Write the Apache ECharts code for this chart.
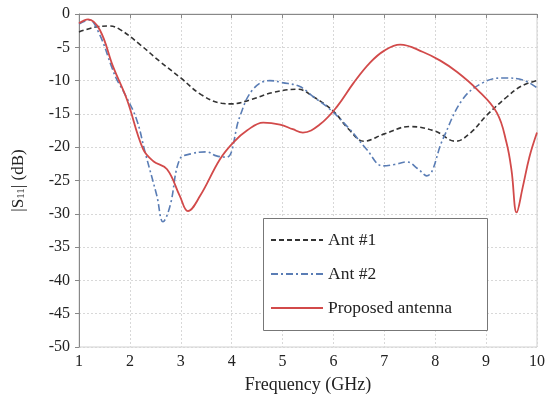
<!DOCTYPE html>
<html><head><meta charset="utf-8">
<script src="https://cdn.jsdelivr.net/npm/echarts@6/dist/echarts.min.js"></script>
<style>html,body{margin:0;padding:0;background:#fff}#c{width:553px;height:399px}</style>
</head><body><div id="c"></div>
<script>
const xTicks = [1,2,3,4,5,6,7,8,9,10];
const yTicks = [0,-5,-10,-15,-20,-25,-30,-35,-40,-45,-50];
const ant1X = [1,1.3,1.6,1.8,2.2,2.6,3.0,3.4,3.8,4.0,4.4,4.8,5.3,5.6,6.0,6.3,6.6,7.0,7.5,8.0,8.4,8.7,9.0,9.4,9.7,10];
const ant1Y = [-2.7,-2.0,-1.8,-2.3,-4.6,-7.2,-9.6,-12.1,-13.4,-13.5,-12.8,-11.8,-11.3,-12.4,-14.6,-17.3,-19.1,-18.0,-16.9,-17.6,-19.1,-17.8,-15.3,-12.5,-10.8,-10.0];
const ant2X = [1,1.2,1.4,1.64,1.74,1.9,2.13,2.3,2.53,2.65,2.79,2.98,3.2,3.5,3.7,3.9,4.16,4.42,4.75,5.0,5.34,5.6,5.93,6.32,6.65,6.97,7.2,7.44,7.65,7.83,8.15,8.54,8.94,9.33,9.72,10];
const ant2Y = [-1.5,-0.9,-3.0,-7.9,-9.8,-12.0,-15.8,-20.8,-27.3,-31.2,-28.8,-21.8,-21.0,-20.7,-21.3,-21.5,-15.4,-11.3,-10.0,-10.3,-10.9,-12.4,-14.3,-17.3,-20.3,-22.8,-22.6,-22.2,-23.2,-24.3,-18.8,-12.8,-10.3,-9.6,-9.9,-11.1];
const propX = [1,1.18,1.41,1.67,1.94,2.26,2.46,2.73,2.98,3.14,3.38,3.77,4.03,4.3,4.62,4.95,5.2,5.4,5.73,6.07,6.4,6.72,7.0,7.31,7.76,8.1,8.43,8.82,9.21,9.4,9.5,9.6,9.72,9.85,10];
const propY = [-1.4,-0.8,-2.4,-7.9,-12.8,-20.3,-22.1,-23.3,-27.3,-29.6,-27.3,-21.8,-19.3,-17.5,-16.3,-16.6,-17.3,-17.8,-16.6,-13.9,-10.3,-7.3,-5.5,-4.6,-5.7,-7.0,-8.7,-11.3,-14.8,-19.3,-23.5,-29.8,-26.0,-21.5,-17.8];
const names = ['Ant #1','Ant #2','Proposed antenna'];
const zip = (a,b)=>a.map((v,i)=>[v,b[i]]);
const font = '"Liberation Serif", "Times New Roman", serif';
const chart = echarts.init(document.getElementById('c'));
chart.setOption({
  animation:false,
  textStyle:{fontFamily:font},
  grid:{left:79,right:16,top:14,bottom:50,show:true,borderColor:'#d0d0d0',borderWidth:1},
  xAxis:{type:'value',min:1,max:10,interval:1,
    name:'Frequency (GHz)',nameLocation:'middle',nameGap:29,
    nameTextStyle:{fontFamily:font,fontSize:18,color:'#222'},
    axisLine:{lineStyle:{color:'#888',width:1}},
    axisTick:{show:true,length:4,lineStyle:{color:'#888'}},
    axisLabel:{fontFamily:font,fontSize:16,color:'#222',margin:7},
    splitLine:{show:true,lineStyle:{color:'#d8d8d8',type:[2,2]}}},
  yAxis:{type:'value',min:-50,max:0,interval:5,
    name:'|S{s|11}| (dB)',nameLocation:'middle',nameGap:52,nameRotate:90,
    nameTextStyle:{fontFamily:font,fontSize:17,color:'#222',rich:{s:{fontFamily:font,fontSize:11,verticalAlign:'bottom'}}},
    axisLine:{show:true,lineStyle:{color:'#888',width:1}},
    axisTick:{show:true,length:4,lineStyle:{color:'#888'}},
    axisLabel:{fontFamily:font,fontSize:16,color:'#222',margin:9},
    splitLine:{show:true,lineStyle:{color:'#d8d8d8',type:[2,2]}}},
  graphic:[{type:'rect',left:263,top:218,shape:{width:224,height:112},style:{fill:'#fff',stroke:'#777',lineWidth:1},z:50}],
  legend:{orient:'vertical',left:270,top:231,padding:0,itemWidth:52,itemHeight:10,itemGap:16,z:60,
    itemStyle:{opacity:0},
    textStyle:{fontFamily:font,fontSize:17.5,color:'#222'},data:names},
  series:[
    {name:names[0],type:'line',smooth:0.4,symbol:'none',data:zip(ant1X,ant1Y),
      lineStyle:{color:'#333',width:1.6,type:[5,3]},itemStyle:{color:'#333'}},
    {name:names[1],type:'line',smooth:0.4,symbol:'none',data:zip(ant2X,ant2Y),
      lineStyle:{color:'#5a7db5',width:1.6,type:[7,3,2,3]},itemStyle:{color:'#5a7db5'}},
    {name:names[2],type:'line',smooth:0.4,symbol:'none',data:zip(propX,propY),
      lineStyle:{color:'#d24a4a',width:1.8},itemStyle:{color:'#d24a4a'}}
  ]
});
</script></body></html>
